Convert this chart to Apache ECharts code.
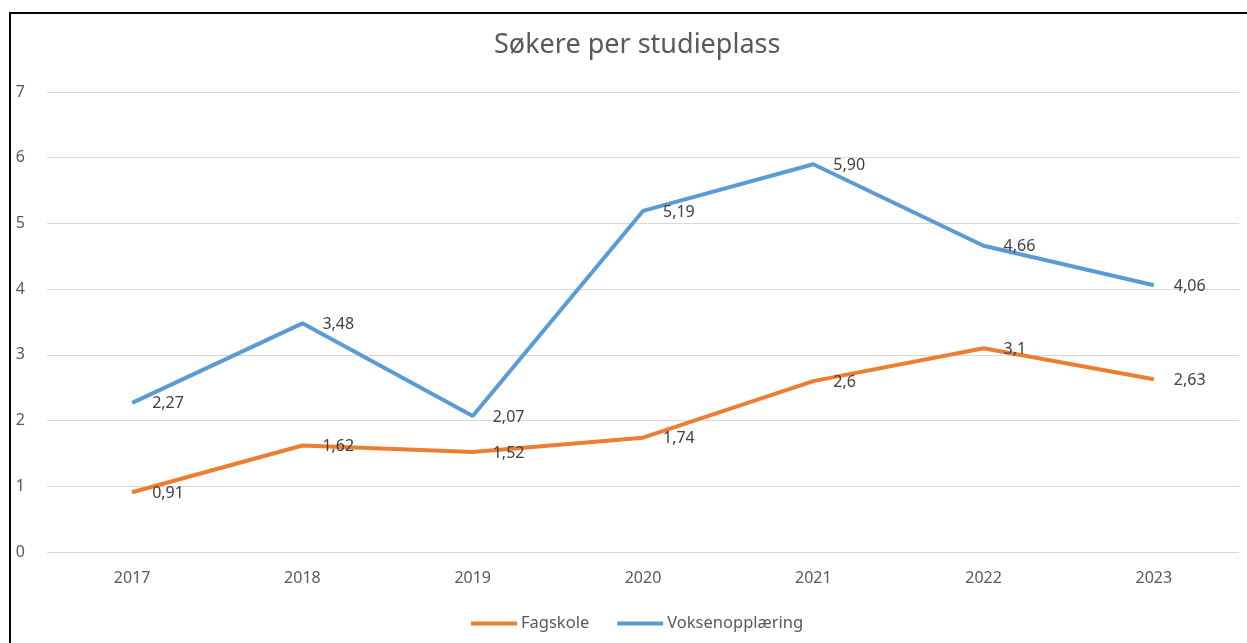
<!DOCTYPE html>
<html>
<head>
<meta charset="utf-8">
<script src="https://cdn.jsdelivr.net/npm/echarts@6/dist/echarts.min.js"></script>
<style>
  * { margin: 0; padding: 0; }
  body { background: #fff; width: 1247px; height: 643px; overflow: hidden; }
  #frame { position: absolute; left: 9px; top: 12px; width: 1250px; height: 650px; border: 2px solid #000; box-sizing: border-box; }
  #chart { position: absolute; left: 0; top: 0; width: 1247px; height: 643px; }
</style>
</head>
<body>
<div id="frame"></div>
<div id="chart"></div>
<script>
  var years = ['2017', '2018', '2019', '2020', '2021', '2022', '2023']
  var fagskole = [0.91, 1.62, 1.52, 1.74, 2.6, 3.1, 2.63]
  var voksen = [2.27, 3.48, 2.07, 5.19, 5.90, 4.66, 4.06]
  // labels as shown in the picture (comma decimals)
  var fagskoleLabels = ['0,91', '1,62', '1,52', '1,74', '2,6', '3,1', '2,63']
  var voksenLabels = ['2,27', '3,48', '2,07', '5,19', '5,90', '4,66', '4,06']

  var font = 'Noto Sans'
  var myChart = echarts.init(document.getElementById('chart'))

  function lineSeries (name, data, labels, color) {
    return {
      name: name,
      type: 'line',
      data: data,
      symbol: 'circle',
      symbolSize: 0,
      showSymbol: true,
      lineStyle: { color: color, width: 4 },
      itemStyle: { color: color },
      label: {
        show: true,
        position: 'right',
        distance: 20,
        offset: [0, 1],
        color: '#404040',
        fontSize: 16,
        formatter: function (p) { return labels[p.dataIndex] }
      }
    }
  }

  myChart.setOption({
    animation: false,
    textStyle: { fontFamily: font },
    title: {
      text: 'Søkere per studieplass',
      left: 489,
      top: 27,
      textStyle: { fontFamily: font, fontSize: 27, fontWeight: 'normal', color: '#595959' }
    },
    legend: {
      bottom: 6,
      left: 466,
      itemWidth: 46,
      itemHeight: 4,
      itemGap: 28,
      icon: 'rect',
      textStyle: { fontFamily: font, fontSize: 16.5, color: '#595959', padding: [0, 0, 0, -1] },
      data: ['Fagskole', 'Voksenopplæring']
    },
    grid: { left: 47, right: 8, top: 92, bottom: 91 },
    xAxis: {
      type: 'category',
      data: years,
      boundaryGap: true,
      axisLine: { show: false },
      axisTick: { show: false },
      axisLabel: { color: '#595959', fontSize: 16, margin: 18 }
    },
    yAxis: {
      type: 'value',
      min: 0,
      max: 7,
      interval: 1,
      axisLabel: { color: '#595959', fontSize: 16, margin: 22 },
      splitLine: { lineStyle: { color: '#d9d9d9', width: 1 } }
    },
    series: [
      lineSeries('Fagskole', fagskole, fagskoleLabels, '#ED7D31'),
      lineSeries('Voksenopplæring', voksen, voksenLabels, '#5B9BD5')
    ]
  })
</script>
</body>
</html>
